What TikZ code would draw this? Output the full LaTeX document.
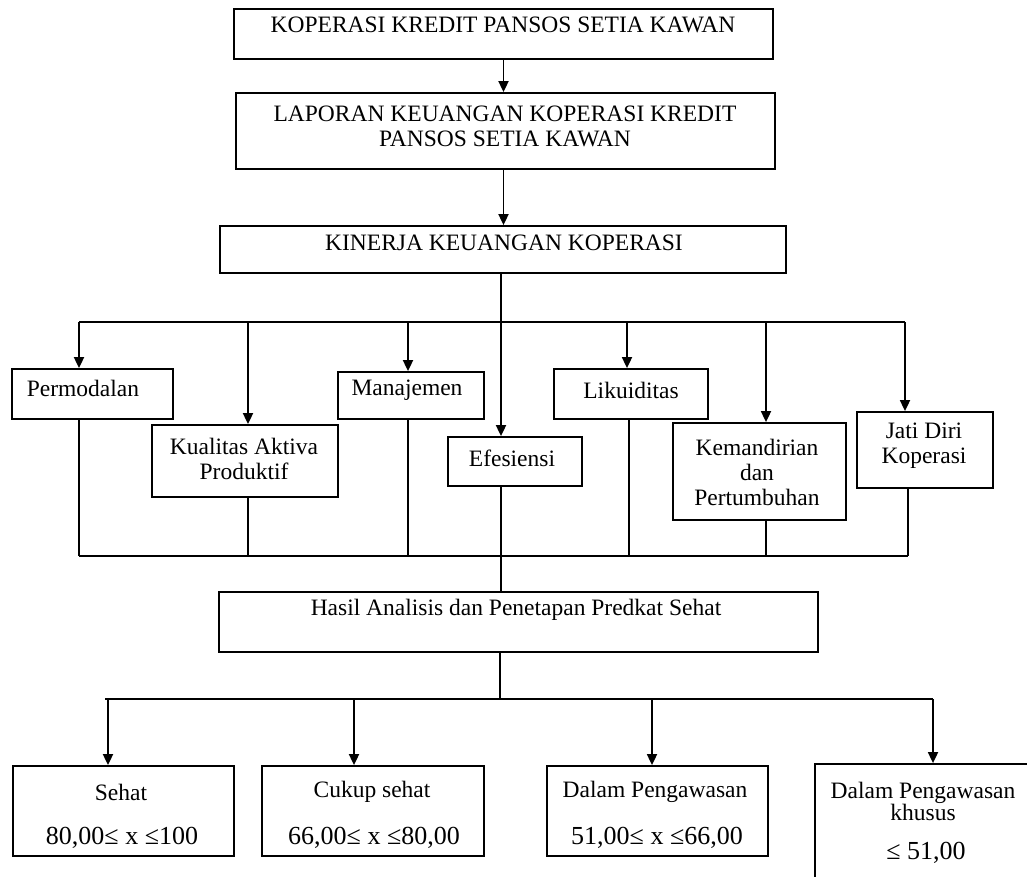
\documentclass[tikz,border=0pt]{standalone}
\usepackage{fontspec}
\setmainfont{Liberation Serif}
\usetikzlibrary{arrows.meta}

\begin{document}
\begin{tikzpicture}[x=1pt,y=-1pt,line width=1.8pt,
    box/.style={draw,line width=1.8pt,inner sep=0pt},
    lbl/.style={inner sep=0pt,align=center,font=\fontsize{23.5}{25}\selectfont},
    num/.style={inner sep=0pt,font=\fontsize{26}{28}\selectfont},
    arr/.style={-{Triangle[length=11pt,width=10pt]}}]
  \clip (0,0) rectangle (1027,876);
  % boxes
  \draw
    (503.5,34) node[box,minimum width=539,minimum height=50] (kop){}
    (505.5,131) node[box,minimum width=539,minimum height=76] (lap){}
    (503,249.5) node[box,minimum width=566,minimum height=47] (kin){}
    (92.5,394) node[box,minimum width=161,minimum height=50] (perm){}
    (245,461) node[box,minimum width=186,minimum height=72] (kual){}
    (411,395.5) node[box,minimum width=146,minimum height=47] (mana){}
    (515,461.5) node[box,minimum width=134,minimum height=49] (efes){}
    (631,394) node[box,minimum width=154,minimum height=50] (liku){}
    (759.5,471.5) node[box,minimum width=173,minimum height=97] (kema){}
    (925,450) node[box,minimum width=136,minimum height=76] (jati){}
    (518.5,622) node[box,minimum width=599,minimum height=60] (has){}
    (123.5,811) node[box,minimum width=221,minimum height=90] (seh){}
    (373,811) node[box,minimum width=222,minimum height=90] (cuk){}
    (657.5,811) node[box,minimum width=221,minimum height=90] (dal){}
    (927.5,832) node[box,minimum width=225,minimum height=136] (khu){};
  % texts
  \draw
    (503,25) node[lbl] (kopt){KOPERASI KREDIT PANSOS SETIA KAWAN}
    (505,126) node[lbl] (lapt){LAPORAN KEUANGAN KOPERASI KREDIT\\PANSOS SETIA KAWAN}
    (504,243) node[lbl] (kint){KINERJA KEUANGAN KOPERASI}
    (83,388) node[lbl] (permt){Permodalan}
    (244,459) node[lbl] (kualt){Kualitas Aktiva\\Produktif}
    (407,390) node[lbl] (manat){Manajemen}
    (512,458) node[lbl] (efest){Efesiensi}
    (631,390) node[lbl] (likut){Likuiditas}
    (757,472) node[lbl] (kemat){Kemandirian\\dan\\Pertumbuhan}
    (924,446) node[lbl] (jatit){Jati Diri\\Koperasi}
    (516,610) node[lbl] (hast){Hasil Analisis dan Penetapan Predkat Sehat}
    (121,792) node[lbl] (seht){Sehat}
    (122,838) node[num] (sehn){80,00≤ x ≤100}
    (372,792) node[lbl] (cukt){Cukup sehat}
    (374,838) node[num] (cukn){66,00≤ x ≤80,00}
    (655,792) node[lbl] (dalt){Dalam Pengawasan}
    (657,838) node[num] (daln){51,00≤ x ≤66,00}
    (923,801) node[lbl,font=\fontsize{23.5}{22}\selectfont] (khut){Dalam Pengawasan\\khusus}
    (926,853) node[num] (khun){≤ 51,00};
  % connectors
  \coordinate (mid) at (501,556);
  \coordinate (tl) at (79,322);
  \coordinate (tr) at (905,322);
  \coordinate (bl) at (79,556);
  \coordinate (br) at (908,556);
  \coordinate (ll) at (105,699);
  \coordinate (lr) at (933,699);
  \coordinate (hb) at (500,699);
  \begin{scope}[arr]
    \draw (kop.south) to (kop.south |- lap.north);
    \draw (lap.south -| kop.south) to (kop.south |- kin.north);
    \draw (mid |- kin.south) to (mid |- efes.north);
  \end{scope}
  \draw (tl) -- (tr);
  \draw (bl) -- (br);
  \draw (ll) -- (lr);
  \draw (mid |- efes.south) -- (mid |- has.north);
  \draw (hb |- has.south) -- (hb);
  \foreach \x/\n in {79/perm,248/kual,408/mana,627/liku,766/kema,905/jati}{
    \coordinate (t\n) at (\x,322);
    \draw[arr] (t\n) -- (t\n |- \n.north);
  }
  \foreach \x/\n in {79/perm,248/kual,408/mana,629/liku,766/kema,908/jati}{
    \coordinate (b\n) at (\x,556);
    \draw (b\n |- \n.south) -- (b\n);
  }
  \foreach \x/\n in {108/seh,354/cuk,652/dal,933/khu}{
    \coordinate (l\n) at (\x,699);
    \draw[arr] (l\n) -- (l\n |- \n.north);
  }
\end{tikzpicture}
\end{document}
